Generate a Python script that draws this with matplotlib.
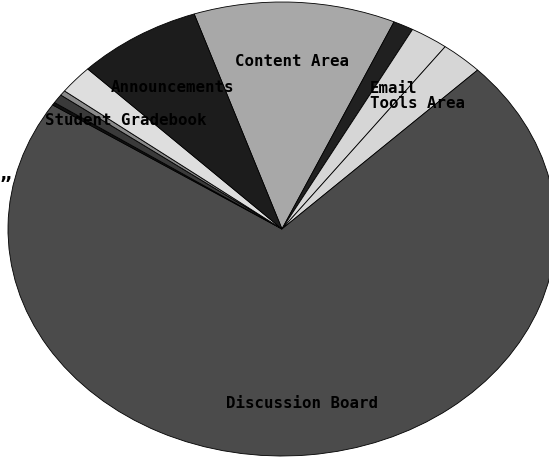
import matplotlib
matplotlib.use("Agg")
import matplotlib.pyplot as plt

# share of page hits per course area (percent), clockwise from Content Area
areas = ["Content Area", "", "Email", "Tools Area", "Discussion Board",
         "", "", "", "Student Gradebook", "Announcements"]
share = [11.9, 1.2, 2.25, 2.5, 71.55, 0.2, 0.64, 0.36, 2.05, 7.35]
shades = ["#a8a8a8", "#202020", "#d6d6d6", "#d6d6d6", "#4b4b4b",
          "#101010", "#3a3a3a", "#8a8a8a", "#dedede", "#1c1c1c"]

fig = plt.figure(figsize=(5.49, 4.60), dpi=100)
# stretched (elliptical) pie: axes wider than tall, aspect left on auto
ax = fig.add_axes([8 / 549, 3 / 460, 548 / 549, 454 / 460])

wedges, texts = ax.pie(share, labels=areas, colors=shades,
                       startangle=108.7, counterclock=False,
                       labeldistance=0.755,
                       wedgeprops=dict(edgecolor="black", linewidth=0.6),
                       textprops=dict(family="DejaVu Sans Mono", weight="bold",
                                      fontsize=11.3, color="black",
                                      ha="center", va="center"))
for w in wedges:
    w.set_clip_on(False)
# labels sit a touch lower than the default spot
for t in texts:
    x, y = t.get_position()
    t.set_position((x, y - 0.013))

ax.set_aspect("auto")
ax.set_xlim(-1, 1)
ax.set_ylim(-1, 1)
ax.axis("off")

# tail end of a label that runs off the left side
fig.text(0.0, 1 - 186 / 460, "\u201d", family="DejaVu Sans Mono",
         weight="bold", fontsize=14, ha="left", va="center")

fig.savefig("out.png", dpi=100)
